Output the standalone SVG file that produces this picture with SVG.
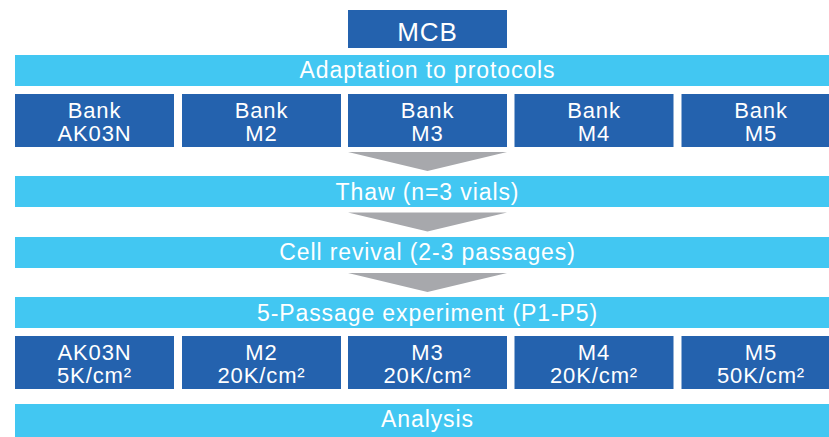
<svg xmlns="http://www.w3.org/2000/svg" width="829" height="437" viewBox="0 0 829 437">
  <style>
    .dark { fill: #2462AE; }
    .light { fill: #42C7F2; }
    .arrow { fill: #A7A8AC; }
    text { font-family: "Liberation Sans", Arial, sans-serif; font-size: 23px; fill: #FFFFFF; text-anchor: middle; letter-spacing: 0.9px; }
    .big { font-size: 26px; }
    .two { font-size: 22px; }
  </style>
  <rect width="829" height="437" fill="#FFFFFF"/>

  <!-- flow arrows -->
  <g id="connectors">
    <polygon class="arrow" points="348,152 507,152 427.5,171"/>
    <polygon class="arrow" points="348,212.5 507,212.5 427.5,231.5"/>
    <polygon class="arrow" points="348,273 507,273 427.5,292"/>
  </g>

  <g id="mcb">
    <rect class="dark" x="348" y="10" width="159" height="38"/>
    <text class="big" x="427.5" y="40.5">MCB</text>
  </g>

  <g id="adaptation">
    <rect class="light" x="15" y="55" width="825" height="31"/>
    <text x="427.5" y="77.5">Adaptation to protocols</text>
  </g>

  <!-- cell banks -->
  <g id="bank-ak03n">
    <rect class="dark" x="15" y="94" width="159" height="53"/>
    <text class="two" x="94.5" y="117.5">Bank</text>
    <text class="two" x="94.5" y="140.5">AK03N</text>
  </g>
  <g id="bank-m2">
    <rect class="dark" x="182" y="94" width="159" height="53"/>
    <text class="two" x="261.5" y="117.5">Bank</text>
    <text class="two" x="261.5" y="140.5">M2</text>
  </g>
  <g id="bank-m3">
    <rect class="dark" x="348" y="94" width="159" height="53"/>
    <text class="two" x="427.5" y="117.5">Bank</text>
    <text class="two" x="427.5" y="140.5">M3</text>
  </g>
  <g id="bank-m4">
    <rect class="dark" x="514.5" y="94" width="159" height="53"/>
    <text class="two" x="594" y="117.5">Bank</text>
    <text class="two" x="594" y="140.5">M4</text>
  </g>
  <g id="bank-m5">
    <rect class="dark" x="681.5" y="94" width="159" height="53"/>
    <text class="two" x="761" y="117.5">Bank</text>
    <text class="two" x="761" y="140.5">M5</text>
  </g>

  <g id="thaw">
    <rect class="light" x="15" y="176" width="825" height="31"/>
    <text x="427.5" y="199.5">Thaw (n=3 vials)</text>
  </g>

  <g id="revival">
    <rect class="light" x="15" y="237" width="825" height="31"/>
    <text x="427.5" y="259.5">Cell revival (2-3 passages)</text>
  </g>

  <g id="experiment">
    <rect class="light" x="15" y="297" width="825" height="31"/>
    <text x="427.5" y="320.5">5-Passage experiment (P1-P5)</text>
  </g>

  <!-- seeding densities -->
  <g id="seed-ak03n">
    <rect class="dark" x="15" y="336" width="159" height="53"/>
    <text class="two" x="94.5" y="359.5">AK03N</text>
    <text class="two" x="94.5" y="382.5">5K/cm²</text>
  </g>
  <g id="seed-m2">
    <rect class="dark" x="182" y="336" width="159" height="53"/>
    <text class="two" x="261.5" y="359.5">M2</text>
    <text class="two" x="261.5" y="382.5">20K/cm²</text>
  </g>
  <g id="seed-m3">
    <rect class="dark" x="348" y="336" width="159" height="53"/>
    <text class="two" x="427.5" y="359.5">M3</text>
    <text class="two" x="427.5" y="382.5">20K/cm²</text>
  </g>
  <g id="seed-m4">
    <rect class="dark" x="514.5" y="336" width="159" height="53"/>
    <text class="two" x="594" y="359.5">M4</text>
    <text class="two" x="594" y="382.5">20K/cm²</text>
  </g>
  <g id="seed-m5">
    <rect class="dark" x="681.5" y="336" width="159" height="53"/>
    <text class="two" x="761" y="359.5">M5</text>
    <text class="two" x="761" y="382.5">50K/cm²</text>
  </g>

  <g id="analysis">
    <rect class="light" x="15" y="404" width="825" height="33"/>
    <text x="427.5" y="426.5">Analysis</text>
  </g>
</svg>
